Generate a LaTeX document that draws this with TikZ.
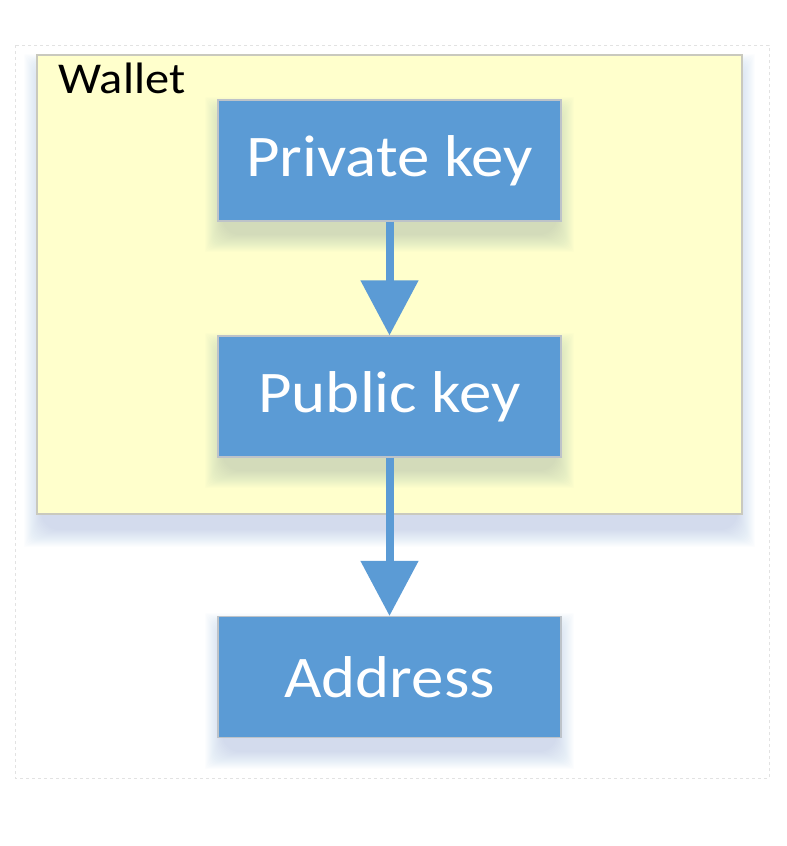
\documentclass[tikz,border=0pt]{standalone}
\usepackage{fontspec}
\setmainfont[FakeStretch=1.1]{Carlito}
\usetikzlibrary{arrows.meta}
\definecolor{boxblue}{HTML}{5B9BD5}
\definecolor{boxedge}{HTML}{BDC3C9}
\definecolor{walletfill}{HTML}{FFFFCC}
\definecolor{walletedge}{HTML}{C9C9BE}
\definecolor{frameedge}{HTML}{E2E2E2}
\definecolor{shadowblue}{HTML}{3F78B5}
\newcommand{\mysoftshadow}[5]{%
  \foreach \r in {1,2,...,18}{%
    \fill[shadowblue, opacity=0.011, rounded corners=\r pt]
      ({#1-14+\r},{#2+#5-18+\r}) rectangle ({#3+14-\r},{#4+#5+18-\r});
  }}
\tikzset{
  keybox/.style={draw=boxedge, line width=1.2pt, fill=boxblue, text=white,
    minimum width=343pt, minimum height=121pt, inner sep=0pt,
    font=\fontsize{59}{61}\selectfont},
  walletbox/.style={draw=walletedge, line width=1.5pt, fill=walletfill,
    minimum width=705pt, minimum height=459pt, inner sep=0pt},
  flow/.style={draw=boxblue, line width=8pt,
    -{Triangle[width=56pt,length=55pt]}},
}
\begin{document}
\begin{tikzpicture}[x=1pt,y=-1pt]
\useasboundingbox[fill=white] (0,0) rectangle (787,846);
\draw[frameedge, dashed, line width=0.7pt] (15,45) rectangle (769,778);
\mysoftshadow{37}{55}{742}{514}{16}
\node[walletbox] (wallet) at (389.5,284.5) {};
\node[anchor=base west, font=\fontsize{44}{46}\selectfont] (wlabel) at (55,93) {Wallet};
\mysoftshadow{218}{100}{561}{221}{14}
\mysoftshadow{218}{336}{561}{457}{14}
\mysoftshadow{218}{616}{561}{738}{14}
\node[keybox] (priv) at (389.5,160.5) {Private key};
\node[keybox] (pub) at (389.5,396.5) {Public key};
\node[keybox] (addr) at (389.5,677) {Address};
\draw[flow] (priv.south) -- (pub.north);
\draw[flow] (pub.south) -- (addr.north);
\end{tikzpicture}
\end{document}
